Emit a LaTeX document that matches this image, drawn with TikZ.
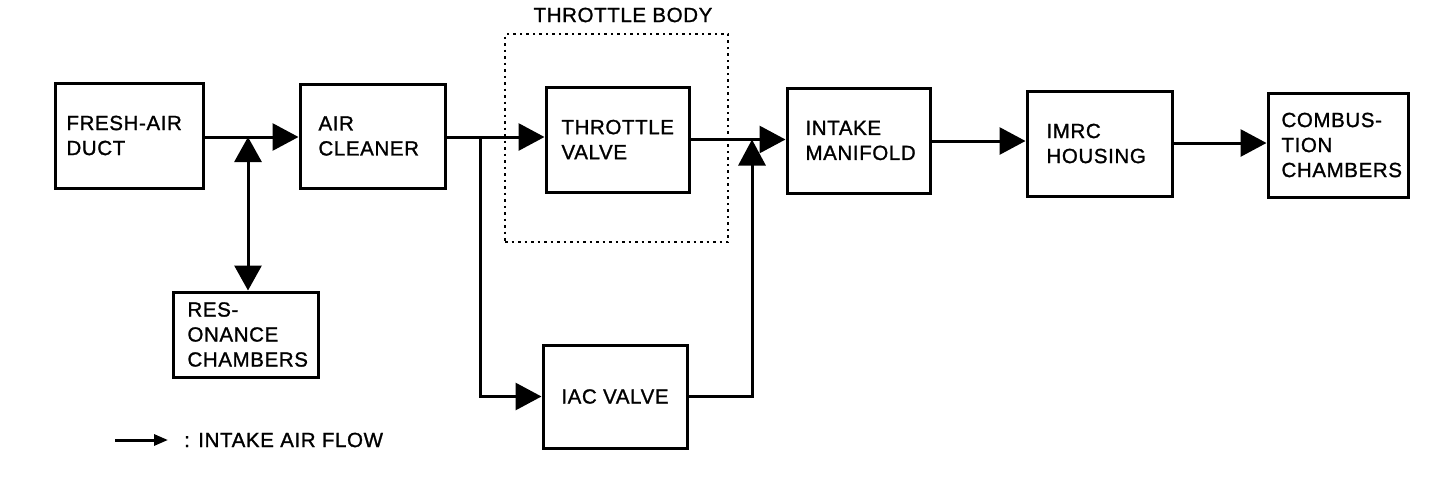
\documentclass[tikz,border=0pt]{standalone}
\usepackage{fontspec}
\setmainfont{Liberation Sans}
\newfontfamily\scanfont{Liberation Sans}[FakeBold=1.2, LetterSpace=3]
\usetikzlibrary{arrows.meta}
\tikzset{
  blk/.style={draw, line width=3pt, rectangle, align=left, inner ysep=0pt,
    font=\scanfont\fontsize{20.5}{25}\selectfont},
  flow/.style={line width=3pt, -{Triangle[length=26pt,width=27pt]}},
  dflow/.style={line width=3pt, {Triangle[length=25pt,width=27pt]}-{Triangle[length=25pt,width=27pt]}},
  lbl/.style={font=\scanfont\fontsize{20.5}{25}\selectfont, inner sep=0pt},
  body/.style={draw, line width=2.5pt, dash pattern=on 2.5pt off 4pt},
}
\newcommand{\blkbox}[7]{% name, cx, cy, w, h, offset, text
  \node[blk, minimum width=#4pt, minimum height=#5pt, inner xsep=#6pt,
        text width=#4pt-2*#6pt-3pt] (#1) at (#2,#3) {#7};}
\begin{document}
\begin{tikzpicture}[x=1pt,y=-1pt]
\useasboundingbox (0,0) rectangle (1456,482);
% boxes
\blkbox{fresh}{129}{135.5}{148}{105}{10}{FRESH-AIR\\DUCT}
\blkbox{air}{372.5}{136}{145}{104}{17}{AIR\\CLEANER}
\blkbox{thr}{617.5}{139.5}{143}{105}{14}{THROTTLE\\VALVE}
\blkbox{int}{858.5}{140.5}{143}{105}{17}{INTAKE\\MANIFOLD}
\blkbox{imrc}{1099.5}{143.5}{145}{105}{18}{IMRC\\HOUSING}
\blkbox{comb}{1338}{145}{140}{104}{12}{COMBUS-\\TION\\CHAMBERS}
\blkbox{res}{245.5}{334.5}{145}{85}{13}{RES-\\ONANCE\\CHAMBERS}
\node[blk, minimum width=144pt, minimum height=103pt, align=center] (iac) at (615,396.5) {IAC VALVE};
% throttle body
\node[body, minimum width=223pt, minimum height=208pt, inner sep=0pt] (tb) at (616.5,138) {};
\node[lbl] (tbl) at (623,15) {THROTTLE BODY};
% junctions
\coordinate (j1) at (248,137);
\coordinate (b1) at (480,137);
\coordinate (j2) at (752,139.5);
% main flow
\draw[flow] (fresh.east |- j1) -- (j1 -| air.west);
\draw[dflow] (j1) -- (j1 |- res.north);
\draw[flow] (air.east |- b1) -- (b1 -| thr.west);
\draw[flow] (b1) |- (iac.west);
\draw[flow] (thr.east |- j2) -- (j2 -| int.west);
\draw[flow] (iac.east) -| (j2);
\draw[flow] (int.east |- 0,141) -- (imrc.west |- 0,141);
\draw[flow] (imrc.east |- 0,143) -- (comb.west |- 0,143);
% legend
\coordinate (l1) at (115,440);
\coordinate (l2) at (168,440);
\draw[line width=3pt, -{Triangle[length=14pt,width=11pt]}] (l1) -- (l2);
\node[lbl, anchor=west] (leg) at (184,440) {: INTAKE AIR FLOW};
\end{tikzpicture}
\end{document}
